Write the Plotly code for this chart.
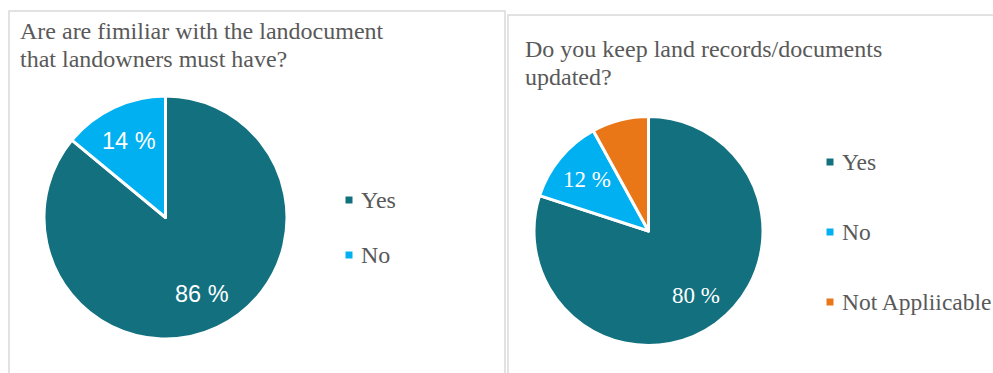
import math
import plotly.graph_objects as go

W, H = 993, 373

# Survey responses
q1_title = ["Are are fimiliar with the landocument", "that landowners must have?"]
q1_labels = ["Yes", "No"]
q1_values = [86, 14]

q2_title = ["Do you keep land records/documents", "updated?"]
q2_labels = ["Yes", "No", "Not Appliicable"]
q2_values = [80, 12, 8]
q2_show_label = [True, True, False]

colors = {"Yes": "#12707F", "No": "#00B0F0", "Not Appliicable": "#EA7717"}
text_gray = "#595959"
frame_gray = "#D9D9D9"


def px(x):
    return x / W


def py(y):
    return 1 - y / H


fig = go.Figure()

panels = [
    dict(labels=q1_labels, values=q1_values, show=[True, True], title=q1_title,
         frame=(9, 11, 505, 373), cx=165.5, cy=217.5, r=121.5,
         title_x=18, title_y=(31, 59), label_font="Liberation Sans", label_size=23.5,
         leg_x=349, leg_y0=200, leg_dy=55, leg_size=24),
    dict(labels=q2_labels, values=q2_values, show=q2_show_label, title=q2_title,
         frame=(508, 15, 1000, 373), cx=648.5, cy=231, r=114.5,
         title_x=523, title_y=(49, 77), label_font="Liberation Serif", label_size=23,
         leg_x=830, leg_y0=162, leg_dy=70, leg_size=23.5),
]

for p in panels:
    x0, y0, x1, y1 = p["frame"]
    fig.add_shape(type="rect", xref="paper", yref="paper",
                  x0=px(x0), x1=px(x1), y0=py(y1 + 5), y1=py(y0),
                  line=dict(color=frame_gray, width=1.5), fillcolor="rgba(0,0,0,0)",
                  layer="below")

    cx, cy, r = p["cx"], p["cy"], p["r"]
    fig.add_trace(go.Pie(
        labels=p["labels"], values=p["values"], sort=False, direction="clockwise",
        rotation=0, textinfo="none", showlegend=False, hoverinfo="label+percent",
        marker=dict(colors=[colors[l] for l in p["labels"]],
                    line=dict(color="white", width=3)),
        domain=dict(x=[px(cx - r), px(cx + r)], y=[py(cy + r), py(cy - r)]),
    ))

    # value labels placed along each slice's mid angle
    total = sum(p["values"])
    cum = 0
    for lab, v, show in zip(p["labels"], p["values"], p["show"]):
        mid = (cum + v / 2) / total * 2 * math.pi
        cum += v
        if not show:
            continue
        rr = 0.7 * r
        tx = cx + rr * math.sin(mid)
        ty = cy - rr * math.cos(mid)
        fig.add_annotation(x=px(tx), y=py(ty), xref="paper", yref="paper",
                           text=f"{round(v / total * 100)} %", showarrow=False,
                           font=dict(family=p["label_font"], size=p["label_size"],
                                     color="white"),
                           xanchor="center", yanchor="middle")

    # title lines
    for line, ty in zip(p["title"], p["title_y"]):
        fig.add_annotation(x=px(p["title_x"]), y=py(ty), xref="paper", yref="paper",
                           text=line, showarrow=False, xanchor="left", yanchor="middle",
                           font=dict(family="Liberation Serif", size=24, color=text_gray))

    # legend entries
    for i, lab in enumerate(p["labels"]):
        ly = p["leg_y0"] + i * p["leg_dy"]
        fig.add_shape(type="rect", xref="paper", yref="paper",
                      x0=px(p["leg_x"] - 3.5), x1=px(p["leg_x"] + 3.5),
                      y0=py(ly + 3.5), y1=py(ly - 3.5),
                      fillcolor=colors[lab], line=dict(width=0))
        fig.add_annotation(x=px(p["leg_x"] + 10), y=py(ly), xref="paper", yref="paper",
                           text=lab, showarrow=False, xanchor="left", yanchor="middle",
                           font=dict(family="Liberation Serif", size=p["leg_size"],
                                     color=text_gray))

fig.update_layout(
    width=W, height=H, margin=dict(l=0, r=0, t=0, b=0),
    paper_bgcolor="white", plot_bgcolor="white",
)

fig.write_html("out.html")
